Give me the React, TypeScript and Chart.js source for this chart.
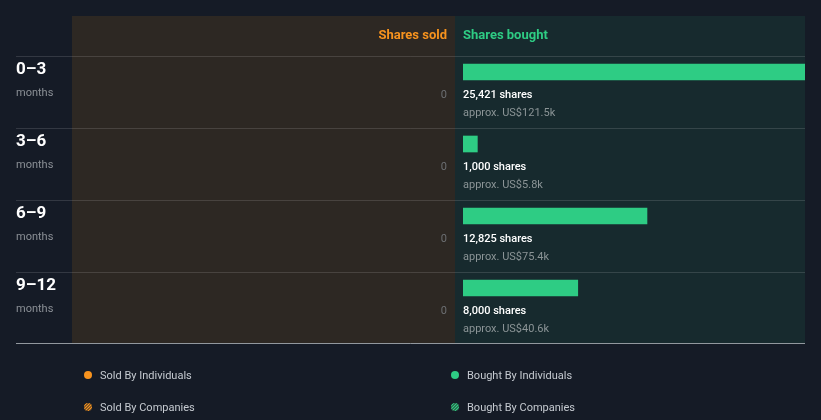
import React, { useEffect, useRef } from "react";
import { Chart, registerables } from "chart.js";

Chart.register(...registerables);

const periods = ["0–3", "3–6", "6–9", "9–12"];
const periodUnit = "months";
const sharesBought = [25421, 1000, 12825, 8000];
const boughtValueK = [121.5, 5.8, 75.4, 40.6];
const sharesSold = [0, 0, 0, 0];
const boughtAxisMax = 23840;
const legendItems = [
  "Sold By Individuals",
  "Bought By Individuals",
  "Sold By Companies",
  "Bought By Companies",
];

const BG = "#151b26";
const SOLD_BG = "#2d2823";
const BOUGHT_BG = "#172a2e";
const GREEN = "#2ecc84";
const ORANGE = "#f7931e";
const FONT = "Roboto, 'Noto Sans', sans-serif";

const decorPlugin = {
  id: "decor",
  beforeDraw(chart: any) {
    const { ctx } = chart;
    const y = chart.scales.y;
    const rowTop = (i: number) => y.getPixelForValue(i) - 16;
    const top = 16;
    const bottom = rowTop(periods.length - 1) + 71;
    ctx.save();
    ctx.fillStyle = BG;
    ctx.fillRect(0, 0, chart.width, chart.height);
    ctx.fillStyle = SOLD_BG;
    ctx.fillRect(72, top, 383, bottom - top);
    ctx.fillStyle = BOUGHT_BG;
    ctx.fillRect(455, top, 350, bottom - top);
    // headers
    ctx.font = `bold 13px ${FONT}`;
    ctx.textBaseline = "middle";
    ctx.textAlign = "right";
    ctx.fillStyle = ORANGE;
    ctx.fillText("Shares sold", 447, 35.5);
    ctx.textAlign = "left";
    ctx.fillStyle = GREEN;
    ctx.fillText("Shares bought", 463, 35.5);
    // grid lines
    ctx.strokeStyle = "rgba(255,255,255,0.13)";
    ctx.lineWidth = 1;
    periods.forEach((_, i) => {
      const ly = Math.round(rowTop(i)) + 0.5;
      ctx.beginPath();
      ctx.moveTo(16, ly);
      ctx.lineTo(805, ly);
      ctx.stroke();
    });
    ctx.strokeStyle = "rgba(200,205,210,0.7)";
    const by = Math.round(bottom) + 0.5;
    ctx.beginPath();
    ctx.moveTo(16, by);
    ctx.lineTo(805, by);
    ctx.stroke();
    ctx.restore();
  },
  afterDatasetsDraw(chart: any) {
    const { ctx } = chart;
    const y = chart.scales.y;
    ctx.save();
    ctx.textBaseline = "middle";
    periods.forEach((p, i) => {
      const c = y.getPixelForValue(i);
      ctx.textAlign = "left";
      ctx.fillStyle = "#ffffff";
      ctx.font = `bold 17px ${FONT}`;
      ctx.fillText(p, 16, c - 2);
      ctx.fillStyle = "#8b9096";
      ctx.font = `11px ${FONT}`;
      ctx.fillText(periodUnit, 16, c + 21);
      ctx.textAlign = "right";
      ctx.fillStyle = "#6c6f72";
      ctx.fillText(String(sharesSold[i]), 447, c + 23.5);
      ctx.textAlign = "left";
      ctx.fillStyle = "#ffffff";
      ctx.font = `500 11px ${FONT}`;
      ctx.fillText(`${sharesBought[i].toLocaleString("en-US")} shares`, 463, c + 23.5);
      ctx.fillStyle = "#8b9496";
      ctx.font = `11px ${FONT}`;
      ctx.fillText(`approx. US$${boughtValueK[i]}k`, 463, c + 41.5);
    });
    // legend
    const pos = [
      [88, 375, ORANGE, false],
      [455, 375, GREEN, false],
      [88, 407, ORANGE, true],
      [455, 407, GREEN, true],
    ] as const;
    legendItems.forEach((label, i) => {
      const [lx, ly, col, hatch] = pos[i];
      ctx.save();
      ctx.beginPath();
      ctx.arc(lx, ly, 4, 0, Math.PI * 2);
      if (!hatch) {
        ctx.fillStyle = col;
        ctx.fill();
      } else {
        ctx.fillStyle = "#2a2a2a";
        ctx.fill();
        ctx.clip();
        ctx.strokeStyle = col;
        ctx.lineWidth = 1.3;
        for (let k = -8; k <= 8; k += 3) {
          ctx.beginPath();
          ctx.moveTo(lx + k - 5, ly + 5);
          ctx.lineTo(lx + k + 5, ly - 5);
          ctx.stroke();
        }
      }
      ctx.restore();
      ctx.fillStyle = "#c5cad0";
      ctx.font = `11px ${FONT}`;
      ctx.textAlign = "left";
      ctx.textBaseline = "middle";
      ctx.fillText(label, lx + 12, ly + 1);
    });
    ctx.restore();
  },
};

export default function App() {
  const ref = useRef<HTMLCanvasElement>(null);
  useEffect(() => {
    if (!ref.current) return;
    const chart = new Chart(ref.current, {
      type: "bar",
      data: {
        labels: periods,
        datasets: [
          {
            data: sharesBought,
            backgroundColor: GREEN,
            barThickness: 16,
            borderWidth: 0,
          },
        ],
      },
      options: {
        indexAxis: "y",
        animation: false,
        responsive: false,
        maintainAspectRatio: false,
        devicePixelRatio: 1,
        layout: { padding: { left: 463, right: 16, top: 36, bottom: 96 } },
        plugins: { legend: { display: false }, tooltip: { enabled: false } },
        scales: {
          x: { display: false, min: 0, max: boughtAxisMax },
          y: { display: false },
        },
      },
      plugins: [decorPlugin],
    });
    return () => chart.destroy();
  }, []);
  return (
    <div style={{ position: "fixed", left: 0, top: 0, width: 821, height: 420, background: BG }}>
      <canvas ref={ref} width={821} height={420} style={{ display: "block", width: 821, height: 420 }} />
    </div>
  );
}
